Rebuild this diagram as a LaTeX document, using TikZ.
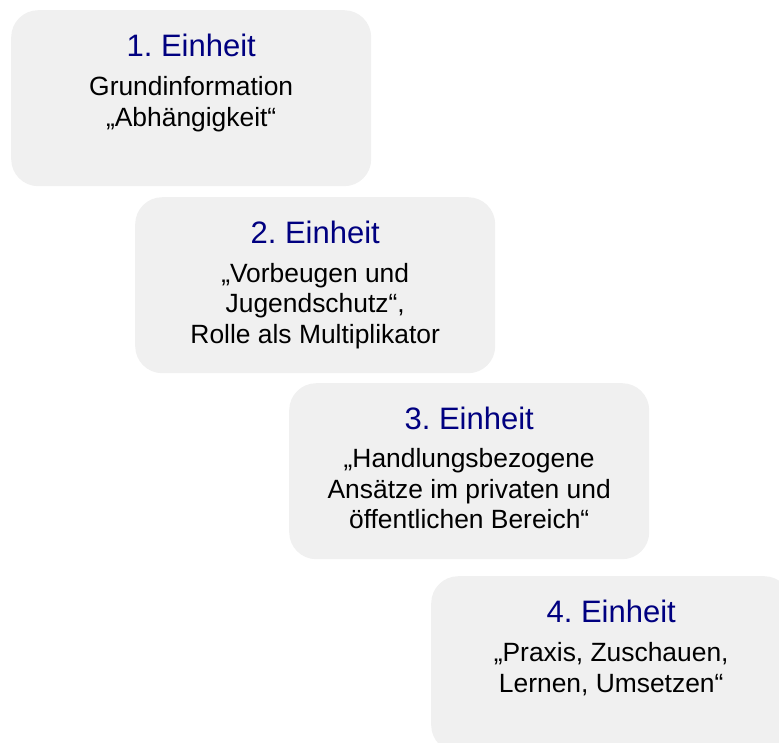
\documentclass[tikz,border=0pt]{standalone}
\usepackage{fontspec}
\setmainfont{Liberation Sans}
\frenchspacing
\definecolor{boxgray}{RGB}{240,240,240}
\definecolor{titleblue}{RGB}{0,0,128}
\tikzset{
  unitbox/.style={rectangle, rounded corners=27pt, fill=boxgray, draw=none,
    minimum width=360pt, minimum height=176pt, anchor=north west, inner sep=0pt},
  unittitle/.style={anchor=base, inner sep=0pt, text=titleblue,
    font=\fontsize{31}{36}\selectfont},
  unitline/.style={anchor=base, inner sep=0pt, text=black,
    font=\fontsize{26.4}{31}\selectfont}
}
\begin{document}
\begin{tikzpicture}[x=1pt, y=-1pt]
  \useasboundingbox (0,0) rectangle (779,742);
  \clip (0,0) rectangle (779,742);

  % the four stepped boxes
  \node[unitbox] (b1) at (11,10) {};
  \node[unitbox] (b2) at (135,197) {};
  \node[unitbox] (b3) at (289,383) {};
  \node[unitbox] (b4) at (431,576) {};

  % 1. Einheit
  \node[unittitle, yshift=-46.5pt] (t1) at (b1.north) {1. Einheit};
  \node[unitline, yshift=-85pt] (b1a) at (b1.north) {Grundinformation};
  \node[unitline, yshift=-116.5pt] (b1b) at (b1.north) {„Abhängigkeit“};

  % 2. Einheit
  \node[unittitle, yshift=-46.5pt] (t2) at (b2.north) {2. Einheit};
  \node[unitline, yshift=-85pt] (b2a) at (b2.north) {„Vorbeugen und};
  \node[unitline, yshift=-115.5pt] (b2b) at (b2.north) {Jugendschutz“,};
  \node[unitline, yshift=-146pt] (b2c) at (b2.north) {Rolle als Multiplikator};

  % 3. Einheit
  \node[unittitle, yshift=-46.5pt] (t3) at (b3.north) {3. Einheit};
  \node[unitline, yshift=-84pt] (b3a) at (b3.north) {„Handlungsbezogene};
  \node[unitline, yshift=-115pt] (b3b) at (b3.north) {Ansätze im privaten und};
  \node[unitline, yshift=-145.5pt] (b3c) at (b3.north) {öffentlichen Bereich“};

  % 4. Einheit
  \node[unittitle, yshift=-46.5pt] (t4) at (b4.north) {4. Einheit};
  \node[unitline, yshift=-85pt] (b4a) at (b4.north) {„Praxis, Zuschauen,};
  \node[unitline, yshift=-116pt] (b4b) at (b4.north) {Lernen, Umsetzen“};
\end{tikzpicture}
\end{document}
